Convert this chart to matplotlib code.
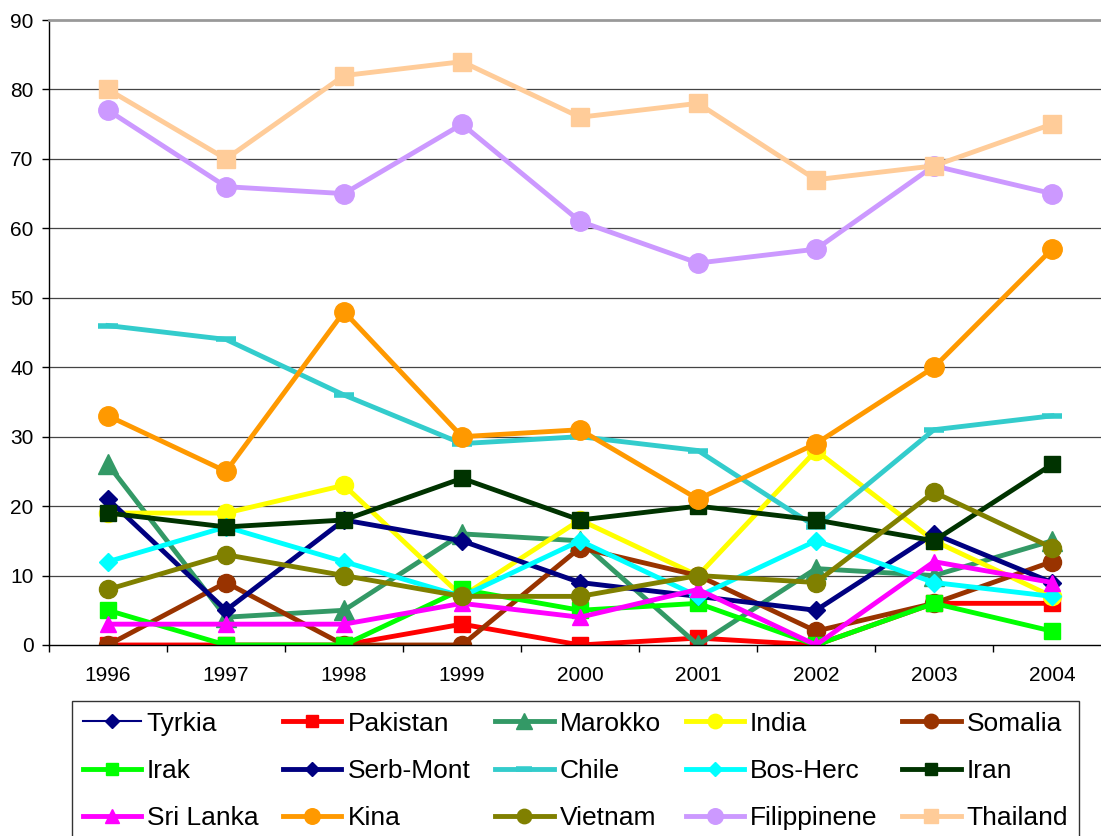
import numpy as np
import matplotlib
matplotlib.use("Agg")
import matplotlib.pyplot as plt

plt.rcParams['font.family'] = ['Liberation Sans', 'DejaVu Sans']

years = ['1996', '1997', '1998', '1999', '2000', '2001', '2002', '2003', '2004']

nan = np.nan
tyrkia = [nan] * 9
pakistan = [0, 0, 0, 3, 0, 1, 0, 6, 6]
marokko = [26, 4, 5, 16, 15, 0, 11, 10, 15]
india = [19, 19, 23, 7, 18, 10, 28, 15, 7]
somalia = [0, 9, 0, 0, 14, 10, 2, 6, 12]
irak = [5, 0, 0, 8, 5, 6, 0, 6, 2]
serb_mont = [21, 5, 18, 15, 9, 7, 5, 16, 9]
chile = [46, 44, 36, 29, 30, 28, 17, 31, 33]
bos_herc = [12, 17, 12, 7, 15, 7, 15, 9, 7]
iran = [19, 17, 18, 24, 18, 20, 18, 15, 26]
sri_lanka = [3, 3, 3, 6, 4, 8, 0, 12, 9]
kina = [33, 25, 48, 30, 31, 21, 29, 40, 57]
vietnam = [8, 13, 10, 7, 7, 10, 9, 22, 14]
filippinene = [77, 66, 65, 75, 61, 55, 57, 69, 65]
thailand = [80, 70, 82, 84, 76, 78, 67, 69, 75]

# label, values, color, marker, markersize, linewidth
series = [
    ('Tyrkia', tyrkia, '#000080', 'D', 9, 1.5),
    ('Pakistan', pakistan, '#FF0000', 's', 11, 3.5),
    ('Marokko', marokko, '#339966', '^', 14, 3.5),
    ('India', india, '#FFFF00', 'o', 13, 3.5),
    ('Somalia', somalia, '#993300', 'o', 13, 3.5),
    ('Irak', irak, '#00FF00', 's', 11, 3.5),
    ('Serb-Mont', serb_mont, '#000080', 'D', 9, 3.5),
    ('Chile', chile, '#33CCCC', '_', 14, 3.5),
    ('Bos-Herc', bos_herc, '#00FFFF', 'D', 9, 3.5),
    ('Iran', iran, '#003300', 's', 11, 3.5),
    ('Sri Lanka', sri_lanka, '#FF00FF', '^', 12, 3.5),
    ('Kina', kina, '#FF9900', 'o', 14, 3.5),
    ('Vietnam', vietnam, '#808000', 'o', 13, 3.5),
    ('Filippinene', filippinene, '#CC99FF', 'o', 14, 3.5),
    ('Thailand', thailand, '#FFCC99', 's', 13, 3.5),
]

fig = plt.figure(figsize=(11.01, 8.36), dpi=100)
ax = fig.add_axes([49 / 1101, 191 / 836, 1062 / 1101, 625 / 836])

x = np.arange(len(years))
handles = []
for label, vals, col, mk, ms, lw in series:
    mew = 4 if mk == '_' else 1
    h, = ax.plot(x, vals, color=col, marker=mk, markersize=ms, linewidth=lw,
                 markerfacecolor=col, markeredgecolor=col, markeredgewidth=mew,
                 label=label)
    handles.append(h)

ax.set_xlim(-0.5, len(years) - 0.5)
ax.set_ylim(0, 90)
ax.set_yticks(range(0, 91, 10))
ax.set_xticks(x)
ax.set_xticklabels(years)
ax.set_xticks(np.arange(len(years) + 1) - 0.5, minor=True)
ax.tick_params(axis='x', which='major', length=0, pad=15, labelsize=15)
ax.tick_params(axis='x', which='minor', length=5, width=1, color='black')
ax.tick_params(axis='y', length=5, width=1, pad=6, labelsize=15)
for v in range(10, 90, 10):
    ax.axhline(v, color='#444444', linewidth=0.9, zorder=0)

ax.spines['right'].set_visible(False)
ax.spines['top'].set_color('#999999')
ax.spines['top'].set_linewidth(2)
ax.spines['left'].set_linewidth(1)
ax.spines['bottom'].set_linewidth(1)

# Excel legend fills row by row, matplotlib column by column
ncol, nrow = 5, 3
order = [r * ncol + c for c in range(ncol) for r in range(nrow)]
leg = fig.legend([handles[i] for i in order], [series[i][0] for i in order],
                 ncol=ncol, loc='upper left', bbox_to_anchor=(72 / 1101, 1 - 701 / 836),
                 borderaxespad=0, fontsize=19, frameon=True, fancybox=False,
                 edgecolor='black', handlelength=2.2, handletextpad=0.23,
                 columnspacing=0.95, labelspacing=0.88, borderpad=0.4,
                 markerscale=0.8)
leg.get_frame().set_linewidth(1)

fig.savefig('out.png', dpi=100)
